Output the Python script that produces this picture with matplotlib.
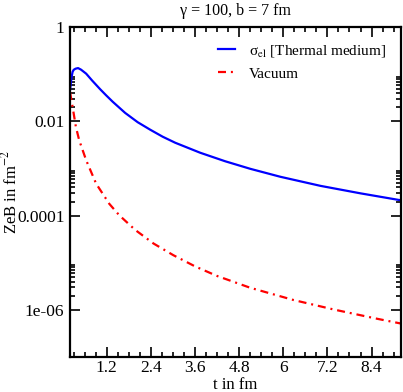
import matplotlib
matplotlib.use('Agg')
import matplotlib.pyplot as plt
import matplotlib.ticker as ticker

# data
t_thermal = [0.2, 0.24, 0.27, 0.3, 0.35, 0.42, 0.5, 0.64, 0.8, 1.02, 1.18, 1.36, 1.7, 2.04, 2.38,
             2.72, 3.06, 3.74, 4.42, 5.1, 5.92, 7.01, 8.1, 9.2]
zeb_thermal = [0.046, 0.085, 0.113, 0.125, 0.132, 0.136, 0.126, 0.1035, 0.0743, 0.0484, 0.0361,
               0.0263, 0.0152, 0.00966, 0.0067, 0.00475, 0.00354, 0.00217, 0.00143, 0.00099,
               0.00067, 0.00043, 0.000298, 0.000212]

t_vacuum = [0.2, 0.23, 0.27, 0.36, 0.45, 0.64, 0.91, 1.27, 1.54, 1.97, 2.47, 3.01, 3.61,
            4.2, 5.1, 6.28, 7.37, 8.56, 9.2]
zeb_vacuum = [0.042, 0.031, 0.0205, 0.0077, 0.0040, 0.0015, 4.79e-4, 1.78e-4, 1.02e-4, 5.01e-5,
              2.57e-5, 1.45e-5, 8.32e-6, 5.25e-6, 2.95e-6, 1.62e-6, 1.02e-6, 6.46e-7, 5.13e-7]

y_major = [1e-6, 1e-4, 1e-2, 1]
y_major_labels = ['1e-06', '0.0001', '0.01', '1']

plt.rcParams['font.family'] = 'Liberation Serif'
plt.rcParams['mathtext.fontset'] = 'stix'

fig = plt.figure(figsize=(4.03, 3.92), dpi=100)
ax = fig.add_axes([0.1737, 0.0893, 0.8213, 0.8411])

ax.plot(t_thermal, zeb_thermal, color='#0000ff', lw=1.6,
        label='σ$_{\\rm el}$ [Thermal medium]')
ax.plot(t_vacuum, zeb_vacuum, color='#ff0000', lw=1.6, linestyle=(0, (3.6, 2.2, 0.9, 2.2)),
        label='Vacuum')

ax.set_yscale('log')
ax.set_xlim(0.2, 9.2)
ax.set_ylim(1e-7, 1)

ax.yaxis.set_major_locator(ticker.FixedLocator(y_major))
ax.yaxis.set_major_formatter(ticker.FixedFormatter(y_major_labels))
minors = [m * 10.0 ** k for k in (-6, -4, -2) for m in range(2, 10)]
ax.yaxis.set_minor_locator(ticker.FixedLocator(minors))
ax.yaxis.set_minor_formatter(ticker.NullFormatter())

ax.xaxis.set_major_locator(ticker.MultipleLocator(1.2))
ax.xaxis.set_minor_locator(ticker.MultipleLocator(0.3))
ax.xaxis.set_major_formatter(ticker.FuncFormatter(lambda v, p: '%g' % round(v, 2)))

ax.tick_params(which='both', direction='in', top=True, right=True, width=1.2, labelsize=12.5)
ax.tick_params(which='major', length=7.5)
ax.tick_params(axis='x', which='major', pad=2)
ax.tick_params(axis='y', which='major', pad=4)
ax.tick_params(which='minor', length=3.8)
for s in ax.spines.values():
    s.set_linewidth(1.6)

ax.set_xlabel('t in fm', fontsize=12)
ax.xaxis.set_label_coords(0.5, -0.06)
ax.set_ylabel('ZeB in fm$^{-2}$', fontsize=12)
ax.yaxis.set_label_coords(-0.15, 0.5)
ax.set_title('γ = 100, b = 7 fm', fontsize=11.5, pad=9)

ax.legend(loc='upper right', frameon=False, fontsize=11, handlelength=1.1,
          handletextpad=0.9, labelspacing=0.55, borderaxespad=0.6)

plt.savefig('out.png', dpi=100)
plt.close(fig)
